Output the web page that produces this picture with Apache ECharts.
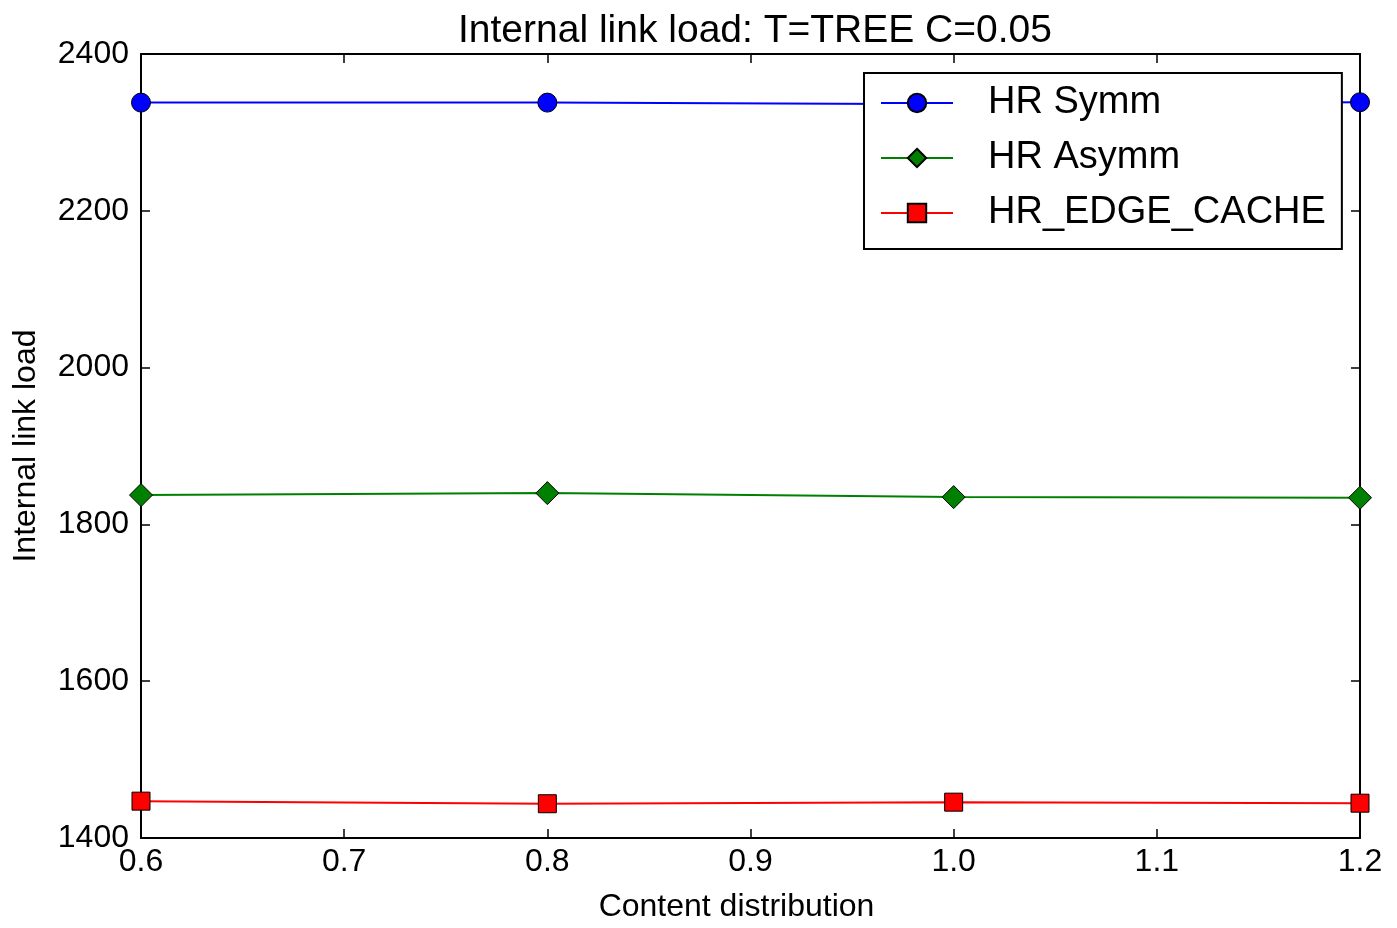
<!DOCTYPE html>
<html lang="en">
<head>
    <meta charset="UTF-8">
    <title>Internal link load</title>
    <script src="https://cdn.jsdelivr.net/npm/echarts@6/dist/echarts.min.js"></script>
</head>
<style>
    html, body { margin: 0; padding: 0; background: #fff; }
    #chart { width: 1397px; height: 928px; }
</style>
<body>
<div id="chart"></div>
<script>
    // values
    let xValues = [0.6, 0.8, 1.0, 1.2]
    let hrSymm = [2338, 2338, 2336, 2338.5]
    let hrAsymm = [1837.4, 1839.9, 1834.8, 1834]
    let hrEdgeCache = [1447, 1443.7, 1445.7, 1444.4]

    let font = '"Liberation Sans", Arial, sans-serif'

    function pairs(ys) {
        return xValues.map(function (x, i) { return [x, ys[i]] })
    }

    let tickStyle = {show: true, inside: true, length: 9, lineStyle: {color: '#000', width: 1.5}}
    let lineAxis = {show: true, lineStyle: {color: '#000', width: 2}}

    let option = {
        backgroundColor: '#fff',
        animation: false,
        title: {
            text: 'Internal link load: T=TREE C=0.05',
            left: 453,
            top: 7,
            textStyle: {fontFamily: font, fontSize: 39, fontWeight: 'normal', color: '#000'}
        },
        grid: {left: 141, right: 37, top: 54, bottom: 86},
        legend: {
            orient: 'vertical',
            left: 864,
            top: 73,
            padding: [10, 16, 16, 16],
            itemGap: 15,
            itemWidth: 72,
            itemHeight: 23,
            backgroundColor: '#fff',
            borderColor: '#000',
            borderWidth: 2,
            z: 10,
            textStyle: {fontFamily: font, fontSize: 38, lineHeight: 40, color: '#000', padding: [0, 0, 0, 30]},
            data: ['HR Symm', 'HR Asymm', 'HR_EDGE_CACHE']
        },
        xAxis: [{
            type: 'value',
            min: 0.6,
            max: 1.2,
            interval: 0.1,
            name: 'Content distribution',
            nameLocation: 'middle',
            nameGap: 53,
            nameTextStyle: {fontFamily: font, fontSize: 32, color: '#000', padding: [0, 28, 0, 0]},
            axisLine: lineAxis,
            axisTick: tickStyle,
            splitLine: {show: false},
            axisLabel: {
                fontFamily: font, fontSize: 32, color: '#000', margin: 8,
                formatter: function (v) { return v.toFixed(1) }
            }
        }, {
            type: 'value',
            position: 'top',
            min: 0.6,
            max: 1.2,
            interval: 0.1,
            axisLine: lineAxis,
            axisTick: tickStyle,
            splitLine: {show: false},
            axisLabel: {show: false}
        }],
        yAxis: [{
            type: 'value',
            min: 1400,
            max: 2400,
            interval: 200,
            name: 'Internal link load',
            nameLocation: 'middle',
            nameGap: 99,
            nameTextStyle: {fontFamily: font, fontSize: 32, color: '#000'},
            axisLine: lineAxis,
            axisTick: tickStyle,
            splitLine: {show: false},
            axisLabel: {
                fontFamily: font, fontSize: 32, color: '#000', margin: 12,
                formatter: function (v) { return String(v) }
            }
        }, {
            type: 'value',
            position: 'right',
            min: 1400,
            max: 2400,
            interval: 200,
            axisLine: lineAxis,
            axisTick: tickStyle,
            splitLine: {show: false},
            axisLabel: {show: false}
        }],
        series: [{
            name: 'HR Symm',
            type: 'line',
            data: pairs(hrSymm),
            symbol: 'circle',
            symbolSize: 19,
            lineStyle: {color: '#0000ff', width: 2},
            itemStyle: {color: '#0000ff', borderColor: '#000', borderWidth: 1}
        }, {
            name: 'HR Asymm',
            type: 'line',
            data: pairs(hrAsymm),
            symbol: 'diamond',
            symbolSize: [23, 23],
            lineStyle: {color: '#008000', width: 2},
            itemStyle: {color: '#008000', borderColor: '#000', borderWidth: 1}
        }, {
            name: 'HR_EDGE_CACHE',
            type: 'line',
            data: pairs(hrEdgeCache),
            symbol: 'rect',
            symbolSize: 18,
            lineStyle: {color: '#ff0000', width: 2},
            itemStyle: {color: '#ff0000', borderColor: '#000', borderWidth: 1}
        }]
    }

    let chart = echarts.init(document.getElementById('chart'))
    chart.setOption(option)
</script>
</body>
</html>
